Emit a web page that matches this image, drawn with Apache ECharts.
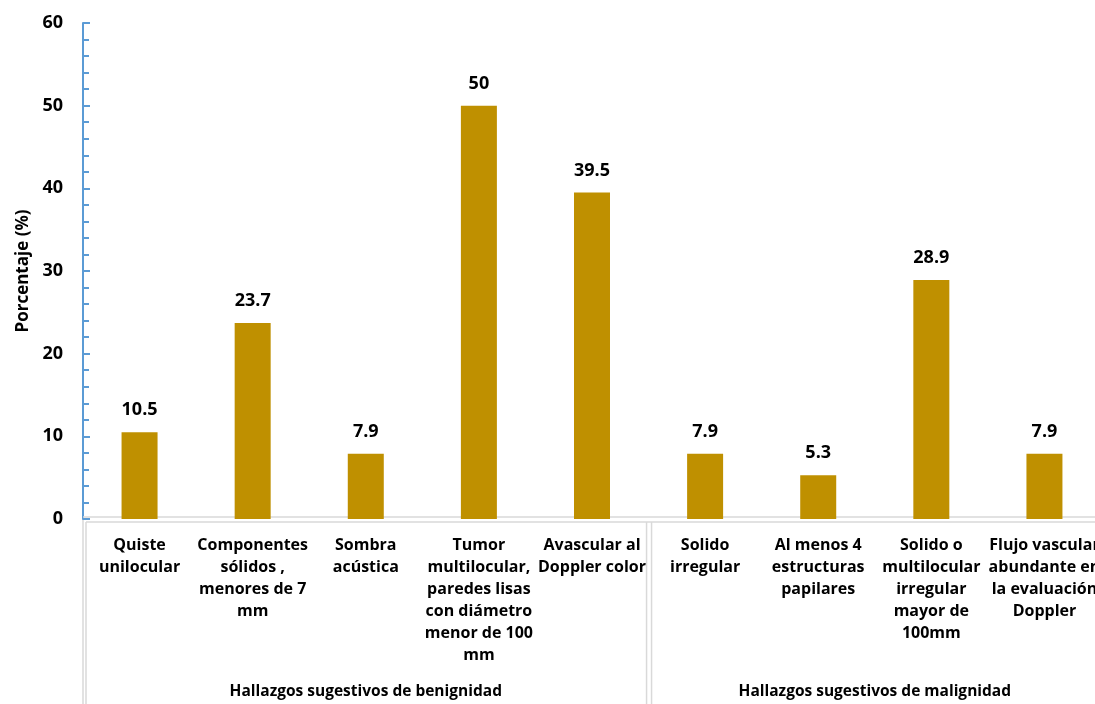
<!DOCTYPE html>
<html>
<head>
<meta charset="utf-8">
<script src="https://cdn.jsdelivr.net/npm/echarts@6/dist/echarts.min.js"></script>
<style>
html,body{margin:0;padding:0;background:#fff;}
#c{width:1095px;height:704px;}
</style>
</head>
<body>
<div id="c"></div>
<script>
const categories = [
  "Quiste\nunilocular",
  "Componentes\nsólidos ,\nmenores de 7\nmm",
  "Sombra\nacústica",
  "Tumor\nmultilocular,\nparedes lisas\ncon diámetro\nmenor de 100\nmm",
  "Avascular al\nDoppler color",
  "Solido\nirregular",
  "Al menos 4\nestructuras\npapilares",
  "Solido o\nmultilocular\nirregular\nmayor de\n100mm",
  "Flujo vascular\nabundante en\nla evaluación\nDoppler"
];
const values = [10.5, 23.7, 7.9, 50, 39.5, 7.9, 5.3, 28.9, 7.9];
const groups = ["Hallazgos sugestivos de benignidad", "Hallazgos sugestivos de malignidad"];
const groupSizes = [5, 4];
const yTicks = [0, 10, 20, 30, 40, 50, 60];

const FONT = "'Open Sans', sans-serif";
const chart = echarts.init(document.getElementById('c'));
chart.setOption({
  animation: false,
  grid: {left: 83, top: 23, height: 496, width: 1018, outerBoundsMode: 'none', containLabel: false},
  xAxis: {
    type: 'category',
    data: categories,
    axisLine: {show: false},
    axisTick: {show: false},
    axisLabel: {
      interval: 0, margin: 15, color: '#000', fontFamily: FONT, fontWeight: 'bold',
      fontSize: 16, lineHeight: 22, verticalAlign: 'top'
    }
  },
  yAxis: {
    type: 'value', min: yTicks[0], max: yTicks[yTicks.length - 1], interval: 10,
    name: 'Porcentaje (%)', nameLocation: 'middle', nameGap: 50, nameRotate: 90,
    nameTextStyle: {color: '#000', fontFamily: FONT, fontWeight: 'bold', fontSize: 17},
    axisLine: {show: true, lineStyle: {color: '#5B9BD5', width: 2}},
    axisTick: {show: true, inside: true, length: 7, lineStyle: {color: '#5B9BD5', width: 2}},
    minorTick: {show: true, splitNumber: 5, length: 6, lineStyle: {color: '#5B9BD5', width: 2}},
    splitLine: {show: false},
    axisLabel: {margin: 20, color: '#000', fontFamily: FONT, fontWeight: 'bold', fontSize: 18}
  },
  series: [{
    type: 'bar', data: values, barWidth: 36,
    itemStyle: {color: '#BF9000'},
    label: {show: true, position: 'top', distance: 13, color: '#000',
      fontFamily: FONT, fontWeight: 'bold', fontSize: 18}
  }]
});

function drawDecor() {
  const c0 = chart.convertToPixel({xAxisIndex: 0}, 0);
  const c1 = chart.convertToPixel({xAxisIndex: 0}, 1);
  const step = c1 - c0;
  const y0 = chart.convertToPixel({yAxisIndex: 0}, 0);
  const stroke = {stroke: '#D9D9D9', lineWidth: 1.5};
  const els = [];
  els.push({type: 'line', shape: {x1: c0 - step / 2, y1: y0 - 2, x2: 1095, y2: y0 - 2}, style: stroke, z: 1});
  els.push({type: 'line', shape: {x1: c0 - step / 2 + 3, y1: y0 + 3, x2: 1095, y2: y0 + 3}, style: stroke, z: 1});
  let start = 0;
  const bounds = [0];
  groupSizes.forEach(n => { start += n; bounds.push(start); });
  bounds.forEach((b, i) => {
    const x = c0 + (b - 0.5) * step;
    if (i === 0) {
      els.push({type: 'line', shape: {x1: x, y1: y0, x2: x, y2: 704}, style: stroke});
      els.push({type: 'line', shape: {x1: x + 3, y1: y0 + 3, x2: x + 3, y2: 704}, style: stroke});
    } else {
      els.push({type: 'line', shape: {x1: x - 2, y1: y0 + 3, x2: x - 2, y2: 704}, style: stroke});
      els.push({type: 'line', shape: {x1: x + 3, y1: y0 + 3, x2: x + 3, y2: 704}, style: stroke});
    }
  });
  groups.forEach((g, i) => {
    const xa = c0 + (bounds[i] - 0.5) * step;
    const xb = c0 + (bounds[i + 1] - 0.5) * step;
    els.push({type: 'text', x: (xa + xb) / 2, y: 692,
      style: {text: g, fill: '#000', font: 'bold 15.5px ' + FONT, textAlign: 'center', textVerticalAlign: 'middle'}});
  });
  chart.setOption({graphic: els});
}
drawDecor();
</script>
</body>
</html>
